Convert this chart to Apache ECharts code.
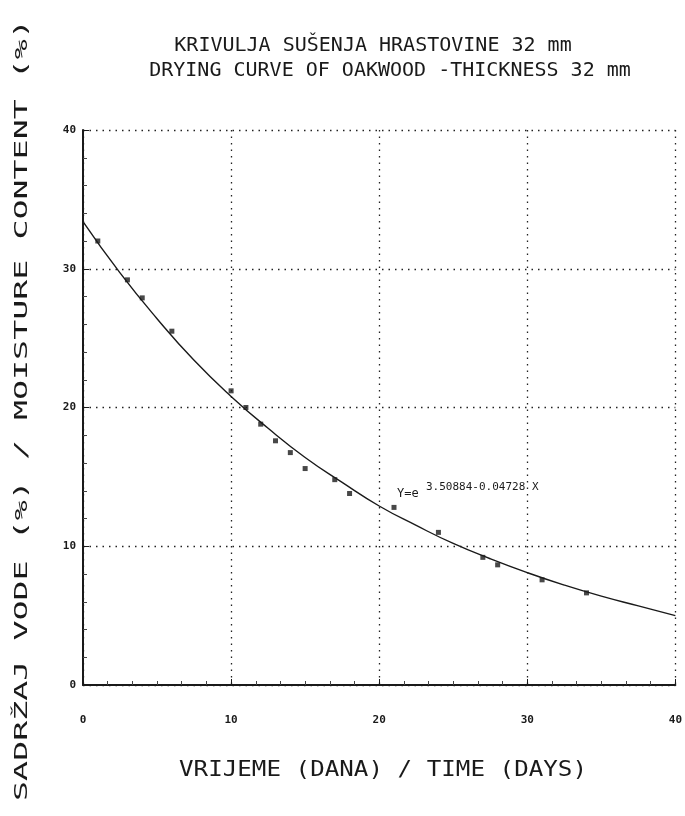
<!DOCTYPE html>
<html>
<head>
<meta charset="utf-8">
<script src="https://cdn.jsdelivr.net/npm/echarts@6/dist/echarts.min.js"></script>
<style>
  html, body { margin: 0; padding: 0; background: #fff; }
  #chart { width: 685px; height: 816px; }
</style>
</head>
<body>
<div id="chart"></div>
<script>
// measured points (days, moisture %)
var days = [1, 3, 4, 6, 10, 11, 12, 13, 14, 15, 17, 18, 21, 24, 27, 28, 31, 34];
var moisture = [32.0, 29.2, 27.9, 25.5, 21.2, 20.0, 18.8, 17.6, 16.75, 15.6, 14.8, 13.8, 12.8, 11.0, 9.2, 8.66, 7.58, 6.64];

// fitted curve
var fitDays = [0, 2.5, 5, 7.5, 10, 12.5, 15, 17.5, 20, 22.5, 25, 27.5, 30, 32.5, 35, 37.5, 40];
var fitValues = [33.4, 29.7, 26.4, 23.4, 20.8, 18.5, 16.4, 14.6, 12.9, 11.5, 10.2, 9.1, 8.1, 7.2, 6.4, 5.7, 5.0];

var titleLines = ["KRIVULJA SUŠENJA HRASTOVINE 32 mm", "DRYING CURVE OF OAKWOOD -THICKNESS 32 mm"];
var xName = "VRIJEME (DANA) / TIME (DAYS)";
var yName = "SADRŽAJ VODE (%) / MOISTURE CONTENT (%)";

var mono = '"DejaVu Sans Mono", monospace';
var ink = "#1a1a1a";

var chart = echarts.init(document.getElementById("chart"));

var option = {
  backgroundColor: "#fff",
  animation: false,
  grid: { left: 83, right: 5, top: 130, bottom: 131 },
  xAxis: {
    type: "value",
    min: 0, max: 40, interval: 10,
    axisLine: { show: true, lineStyle: { color: ink, width: 2 } },
    axisTick: { show: true, inside: true, length: 6, lineStyle: { color: ink } },
    minorTick: { show: true, splitNumber: 6, length: 4, lineStyle: { color: "#444" } },
    axisLabel: {
      margin: 30,
      fontFamily: mono, fontWeight: "bold", fontSize: 11, color: ink
    },
    splitLine: { show: true, lineStyle: { color: "#222", type: [1.5, 5], width: 1.3 } }
  },
  yAxis: {
    type: "value",
    min: 0, max: 40, interval: 10,
    axisLine: { show: true, lineStyle: { color: ink, width: 2 } },
    axisTick: { show: true, inside: true, length: 6, lineStyle: { color: ink } },
    minorTick: { show: true, splitNumber: 5, length: 4, lineStyle: { color: "#444" } },
    axisLabel: {
      margin: 7,
      fontFamily: mono, fontWeight: "bold", fontSize: 11, color: ink
    },
    splitLine: { show: true, lineStyle: { color: "#222", type: [1.5, 5], width: 1.3 } }
  },
  graphic: [
    {
      type: "text", x: 373, y: 46,
      style: { text: titleLines[0], font: "20px " + mono, fill: ink, textAlign: "center", textVerticalAlign: "middle" }
    },
    {
      type: "text", x: 390, y: 71,
      style: { text: titleLines[1], font: "20px " + mono, fill: ink, textAlign: "center", textVerticalAlign: "middle" }
    },
    {
      type: "text", x: 383, y: 770, scaleX: 1.1,
      style: { text: xName, font: "22px " + mono, fill: ink, textAlign: "center", textVerticalAlign: "middle" }
    },
    {
      // vertical axis title, stretched like the plotter lettering
      type: "text", x: 22, y: 410, rotation: Math.PI / 2, scaleX: 1.85,
      style: { text: yName, font: "18px " + mono, fill: ink, textAlign: "center", textVerticalAlign: "middle" }
    },
    {
      type: "text", x: 397, y: 494,
      style: { text: "Y=e", font: "12px " + mono, fill: ink, textAlign: "left", textVerticalAlign: "middle" }
    },
    {
      type: "text", x: 426, y: 487,
      style: { text: "3.50884-0.04728 X", font: "11px " + mono, fill: ink, textAlign: "left", textVerticalAlign: "middle" }
    }
  ],
  series: [
    {
      name: "fit",
      type: "line",
      smooth: true,
      showSymbol: false,
      data: fitDays.map(function (d, i) { return [d, fitValues[i]]; }),
      lineStyle: { color: ink, width: 1.4 },
      z: 3
    },
    {
      name: "measured",
      type: "scatter",
      symbol: "rect",
      symbolSize: 5,
      data: days.map(function (d, i) { return [d, moisture[i]]; }),
      itemStyle: { color: ink },
      z: 4
    }
  ]
};

chart.setOption(option);
</script>
</body>
</html>
